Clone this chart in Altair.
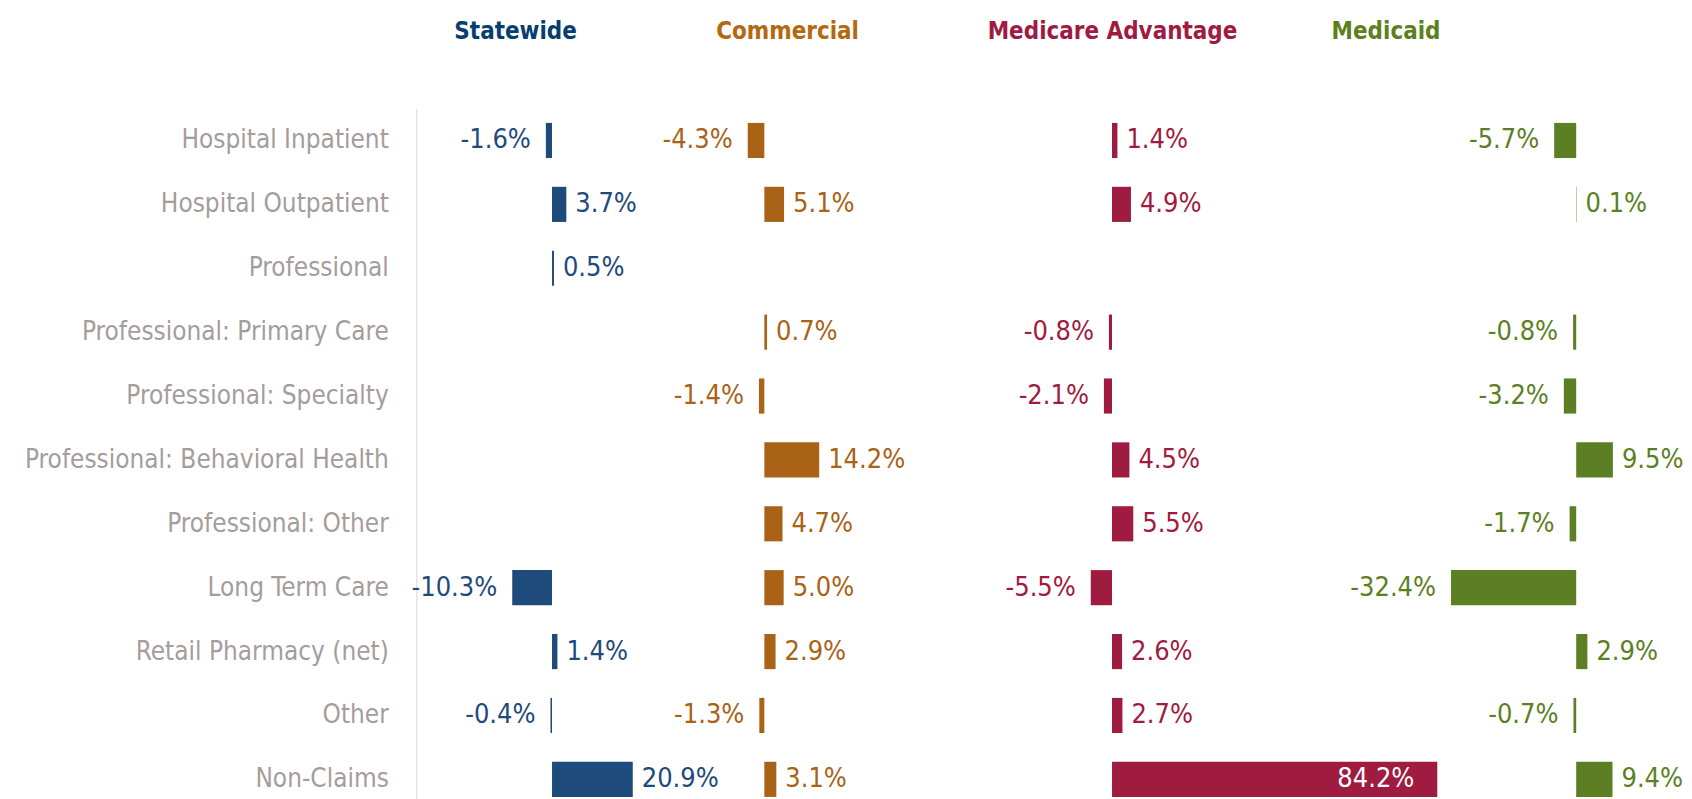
import altair as alt
import pandas as pd

categories = [
    "Hospital Inpatient",
    "Hospital Outpatient",
    "Professional",
    "Professional: Primary Care",
    "Professional: Specialty\u00a0",
    "Professional: Behavioral Health\u00a0",
    "Professional: Other",
    "Long Term Care",
    "Retail Pharmacy (net)",
    "Other",
    "Non-Claims",
]

segments = ["Statewide", "Commercial", "Medicare Advantage", "Medicaid"]

statewide = [-1.6, 3.7, 0.5, None, None, None, None, -10.3, 1.4, -0.4, 20.9]
commercial = [-4.3, 5.1, None, 0.7, -1.4, 14.2, 4.7, 5.0, 2.9, -1.3, 3.1]
medicare_adv = [1.4, 4.9, None, -0.8, -2.1, 4.5, 5.5, -5.5, 2.6, 2.7, 84.2]
medicaid = [-5.7, 0.1, None, -0.8, -3.2, 9.5, -1.7, -32.4, 2.9, -0.7, 9.4]

series = dict(zip(segments, [statewide, commercial, medicare_adv, medicaid]))

rows = []
for seg, vals in series.items():
    for cat, v in zip(categories, vals):
        if v is not None:
            rows.append({"segment": seg, "category": cat, "value": v, "label": f"{v:.1f}%"})
df = pd.DataFrame(rows)

bar_colors = {
    "Statewide": "#1f4a7c",
    "Commercial": "#a96216",
    "Medicare Advantage": "#9f1b40",
    "Medicaid": "#5c7f24",
}
title_colors = {
    "Statewide": "#063e6e",
    "Commercial": "#b3690f",
    "Medicare Advantage": "#a01a42",
    "Medicaid": "#5e7f1e",
}

FONT = "DejaVu Sans Condensed"
PX = 3.87  # pixels per percentage point
# panel layout (pixels): left edge, zero position, right edge, title shift
layout = {
    "Statewide": (417, 553, 660, -22),
    "Commercial": (660, 765.7, 940, -11),
    "Medicare Advantage": (940, 1114, 1447, -79),
    "Medicaid": (1447, 1579, 1640, -155),
}

PLOT_H = 704

panels = []
for i, seg in enumerate(segments):
    left, zero, right, tdx = layout[seg]
    lo = (left - zero) / PX
    hi = (right - zero) / PX
    w = right - left
    color = bar_colors[seg]

    if i == 0:
        yaxis = alt.Axis(
            title=None,
            labelFont=FONT,
            labelFontSize=26,
            labelColor="#a59c9c",
            labelPadding=28,
            ticks=False,
            domainColor="#e3e3e3",
            domainWidth=1.5,
            labelLimit=0,
        )
    else:
        yaxis = None

    yenc = alt.Y(
        "category:N",
        sort=categories,
        scale=alt.Scale(domain=categories, paddingInner=0.45, paddingOuter=0.225),
        axis=yaxis,
    )
    xenc = alt.X("value:Q", scale=alt.Scale(domain=[lo, hi], nice=False, zero=False), axis=None)

    base = alt.Chart(df).transform_filter(alt.datum.segment == seg)
    bars = base.mark_bar(color=color).encode(y=yenc, x=xenc)
    pos = base.transform_filter("datum.value >= 0 && datum.value < 50").mark_text(
        align="left", baseline="middle", dx=9, font=FONT, fontSize=27, color=color
    ).encode(y=yenc, x=xenc, text="label:N")
    neg = base.transform_filter("datum.value < 0").mark_text(
        align="right", baseline="middle", dx=-15, font=FONT, fontSize=27, color=color
    ).encode(y=yenc, x=xenc, text="label:N")
    inside = base.transform_filter("datum.value >= 50").mark_text(
        align="right", baseline="middle", dx=-23, font=FONT, fontSize=27, color="white"
    ).encode(y=yenc, x=xenc, text="label:N")

    panel = alt.layer(bars, pos, neg, inside).properties(
        width=w,
        height=PLOT_H,
        title=alt.TitleParams(
            text=seg,
            font=FONT,
            fontSize=24,
            fontWeight="bold",
            color=title_colors[seg],
            anchor="middle",
            dx=tdx,
            offset=40.5,
            baseline="bottom",
        ),
    )
    panels.append(panel)

chart = alt.hconcat(*panels, spacing=0, bounds="flush").configure_view(stroke=None).properties(
    padding={"left": 16, "top": 11, "right": 0, "bottom": 0}
)

chart.save("out.html", embed_options={"renderer": "svg", "actions": False})
